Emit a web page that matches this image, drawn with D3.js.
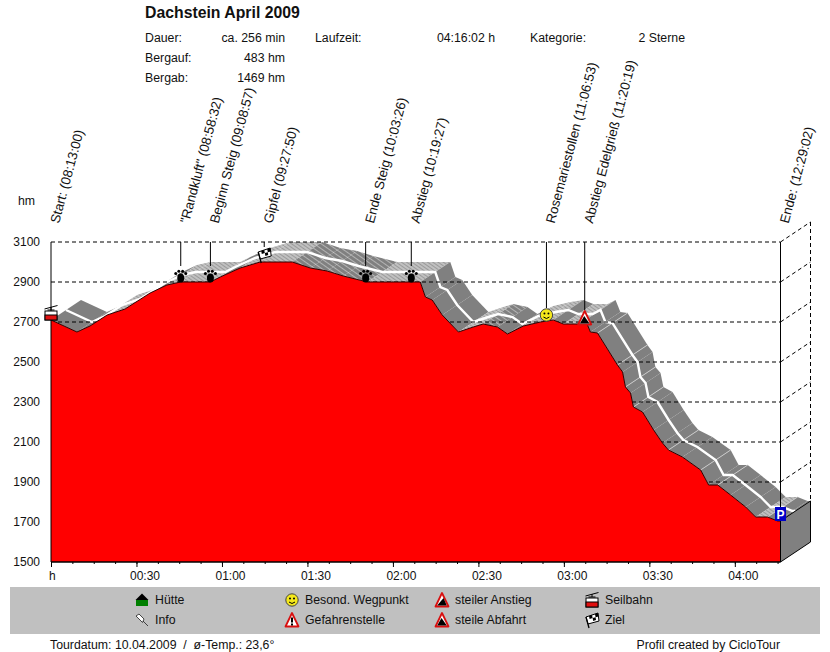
<!DOCTYPE html>
<html>
<head>
<meta charset="utf-8">
<script src="https://cdn.jsdelivr.net/npm/d3@7"></script>
<style>
body { margin: 0; background: white; }
text { font-family: "Liberation Sans", Arial, sans-serif; font-size: 12.3px; fill: #111; }
</style>
</head>
<body>
<script>
// profile: minutes since start, height in hm
const times = [0, 9.1, 13.7, 19.7, 26, 34.8, 40.7, 45.5, 55.9, 59.4, 66.4, 73.4, 84.7, 91, 96.9, 102.6, 111, 129.6, 131.4, 133.8, 137.3, 143, 148.2, 151.7, 156.7, 160.2, 165.8, 171.8, 176.3, 179.8, 184.8, 187.6, 189.3, 191.8, 198.8, 200.6, 201.6, 203.4, 204.4, 207.6, 211.5, 214.6, 216.7, 221.6, 228, 230.8, 234, 238.5, 243.8, 247.3, 251.5, 255, 256.03];
const heights = [2710, 2650, 2680, 2735, 2765, 2845, 2885, 2900, 2900, 2925, 2970, 3000, 3000, 2970, 2955, 2930, 2900, 2900, 2825, 2810, 2735, 2650, 2675, 2690, 2675, 2640, 2680, 2700, 2710, 2690, 2690, 2710, 2650, 2645, 2485, 2450, 2375, 2345, 2275, 2250, 2160, 2095, 2060, 2025, 1960, 1885, 1885, 1835, 1775, 1725, 1725, 1705, 1705];
// light cross lines on the road band, at these profile points
const roadMarks = [191.8, 198.8, 201.6, 204.4, 216.7, 228, 234, 251.5];

const yTicks = [1500, 1700, 1900, 2100, 2300, 2500, 2700, 2900, 3100];
const majorTicks = [30, 60, 90, 120, 150, 180, 210, 240];
const tickLabels = ["00:30", "01:00", "01:30", "02:00", "02:30", "03:00", "03:30", "04:00"];

const wayNames = ["Start:", "\"Randkluft\"", "Beginn Steig", "Gipfel", "Ende Steig", "Abstieg", "Rosemariestollen", "Abstieg Edelgrieß", "Ende:"];
const wayClock = ["08:13:00", "08:58:32", "09:08:57", "09:27:50", "10:03:26", "10:19:27", "11:06:53", "11:20:19", "12:29:02"];
const wayHeights = [2710, 2900, 2900, 3000, 2900, 2900, 2700, 2690, 1705];
const wayIcons = ["cable", "paw", "paw", "flag", "paw", "paw", "smiley", "down", "park"];
const wayStemTo = [2780, 2980, 2980, 3075, 2980, 2980, 2770, 2760, 1790];

const legendLabels = ["Hütte", "Info", "Besond. Wegpunkt", "Gefahrenstelle", "steiler Anstieg", "steile Abfahrt", "Seilbahn", "Ziel"];
const legendIcons = ["house", "pin", "smiley", "warn", "up", "down", "cable", "flag"];
const legendCols = [142, 292, 442, 592];

const infoLabels = ["Dauer:", "Bergauf:", "Bergab:"];
const infoValues = ["ca. 256 min", "483 hm", "1469 hm"];

const width = 830, height = 652;
const depthX = 30, depthY = -20;

const x = d3.scaleLinear().domain([0, 256.03]).range([51, 780.5]);
const y = d3.scaleLinear().domain([1500, 3100]).range([562, 242]);

const svg = d3.select("body").append("svg")
    .attr("width", width)
    .attr("height", height)
    .style("display", "block");

const defs = svg.append("defs");
const addStripes = (id, base, line, size) => {
    const p = defs.append("pattern")
        .attr("id", id)
        .attr("patternUnits", "userSpaceOnUse")
        .attr("width", size)
        .attr("height", size)
        .attr("patternTransform", "rotate(-55)");
    p.append("rect").attr("width", size).attr("height", size).attr("fill", base);
    p.append("rect").attr("width", 1).attr("height", size).attr("fill", line);
};
addStripes("lightRoad", "#c0c0c0", "#9a9a9a", 3);
addStripes("midRoad", "#808080", "#b4b4b4", 4);

const points = times.map((t, i) => ({ t: t, h: heights[i], px: x(t), py: y(heights[i]) }));
const segments = d3.pairs(points);

const slopeOf = ([a, b]) => (b.py - a.py) / (b.px - a.px);
const slopeFill = seg => {
    const s = slopeOf(seg);
    if (s > 0.35 || s < -0.45) return "#808080";
    if (s > 0.1) return "url(#midRoad)";
    return "url(#lightRoad)";
};
// very short flat pieces just carry on the shade before them
let lastFill = null;
const roadFills = segments.map(seg => {
    if (lastFill === null || seg[1].px - seg[0].px >= 10 || slopeOf(seg) > 0.35) lastFill = slopeFill(seg);
    return lastFill;
});

// road band going back in depth
svg.append("g").selectAll("path")
    .data(segments)
    .join("path")
    .attr("d", ([a, b]) => `M${a.px},${a.py}L${b.px},${b.py}L${b.px + depthX},${b.py + depthY}L${a.px + depthX},${a.py + depthY}Z`)
    .attr("fill", (d, i) => roadFills[i])
    .attr("stroke", "none");

svg.append("g").selectAll("line")
    .data(points.filter(p => roadMarks.includes(p.t)))
    .join("line")
    .attr("x1", p => p.px)
    .attr("y1", p => p.py)
    .attr("x2", p => p.px + depthX)
    .attr("y2", p => p.py + depthY)
    .attr("stroke", "#c8c8c8")
    .attr("stroke-width", 1);

const midLine = d3.line().x(p => p.px + depthX / 2).y(p => p.py + depthY / 2);
svg.append("path")
    .attr("d", midLine(points))
    .attr("fill", "none")
    .attr("stroke", "white")
    .attr("stroke-width", 2.4);

// grid, also on the back walls
const grid = svg.append("g");
yTicks.slice(1).forEach(v => {
    grid.append("line")
        .attr("x1", x.range()[0]).attr("x2", x.range()[1])
        .attr("y1", y(v)).attr("y2", y(v))
        .attr("stroke", "black").attr("stroke-dasharray", "4,3");
    grid.append("line")
        .attr("x1", x.range()[1]).attr("x2", x.range()[1] + depthX)
        .attr("y1", y(v)).attr("y2", y(v) + depthY)
        .attr("stroke", "black").attr("stroke-dasharray", "4,3");
});
grid.append("line")
    .attr("x1", x.range()[1] + depthX).attr("x2", x.range()[1] + depthX)
    .attr("y1", y(3100) + depthY).attr("y2", y(heights[heights.length - 1]) + depthY)
    .attr("stroke", "black").attr("stroke-dasharray", "4,3");

// red profile
const area = d3.area().x(p => p.px).y0(y(1500)).y1(p => p.py);
const topLine = d3.line().x(p => p.px).y(p => p.py);
svg.append("path").attr("d", area(points)).attr("fill", "#ff0000");
svg.append("path").attr("d", topLine(points)).attr("fill", "none").attr("stroke", "#300000").attr("stroke-width", 1);

// right wall
const last = points[points.length - 1];
svg.append("path")
    .attr("d", `M${last.px},${last.py}L${last.px + depthX},${last.py + depthY}L${last.px + depthX},${y(1500) + depthY}L${last.px},${y(1500)}Z`)
    .attr("fill", "#808080")
    .attr("stroke", "black");

// axes
svg.append("line")
    .attr("x1", x.range()[0]).attr("x2", x.range()[0])
    .attr("y1", y(3100)).attr("y2", y(1500))
    .attr("stroke", "black");
svg.append("line")
    .attr("x1", x.range()[1]).attr("x2", x.range()[1])
    .attr("y1", y(3100)).attr("y2", y(heights[heights.length - 1]))
    .attr("stroke", "black");
svg.append("line")
    .attr("x1", x.range()[0]).attr("x2", x.range()[1])
    .attr("y1", y(1500)).attr("y2", y(1500))
    .attr("stroke", "black").attr("stroke-width", 1.5);

svg.append("g")
    .attr("transform", `translate(0,${y(1500)})`)
    .call(d3.axisBottom(x).tickValues(d3.range(0, 256, 7.5)).tickSize(2).tickFormat(""))
    .call(g => g.select(".domain").remove())
    .call(g => g.selectAll("line").attr("stroke", "black"));

const xAxis = svg.append("g")
    .attr("transform", `translate(0,${y(1500)})`)
    .call(d3.axisBottom(x).tickValues([0].concat(majorTicks)).tickSize(5)
        .tickFormat((d, i) => i === 0 ? "h" : tickLabels[i - 1]));
xAxis.select(".domain").remove();
xAxis.selectAll("line").attr("stroke", "black");
xAxis.selectAll("text")
    .attr("text-anchor", "start")
    .attr("x", (d, i) => i === 0 ? -2.5 : -7)
    .attr("y", 9)
    .style("font-family", "\"Liberation Sans\", Arial, sans-serif")
    .style("font-size", "12px");

const yAxis = svg.append("g")
    .attr("transform", `translate(${x.range()[0]},0)`)
    .call(d3.axisLeft(y).tickValues(yTicks).tickSize(0).tickPadding(11).tickFormat(d3.format("d")));
yAxis.select(".domain").remove();
yAxis.selectAll("text")
    .style("font-family", "\"Liberation Sans\", Arial, sans-serif")
    .style("font-size", "12px");

svg.append("text").attr("x", 18).attr("y", 205).text("hm");

// icons, all drawn round 0,0
const icons = {
    paw: g => {
        g.append("ellipse").attr("cy", 2).attr("rx", 3.5).attr("ry", 4.6).attr("fill", "black");
        [[-5, -2.5], [-1.9, -4.8], [1.9, -4.8], [5, -2.5]].forEach(c => {
            g.append("circle").attr("cx", c[0]).attr("cy", c[1]).attr("r", 1.5).attr("fill", "black");
        });
    },
    smiley: g => {
        g.append("circle").attr("r", 6.2).attr("fill", "#f4e81c").attr("stroke", "#444").attr("stroke-width", 1);
        g.append("circle").attr("cx", -2).attr("cy", -1.5).attr("r", 1).attr("fill", "black");
        g.append("circle").attr("cx", 2).attr("cy", -1.5).attr("r", 1).attr("fill", "black");
        g.append("path").attr("d", "M-3,2Q0,5 3,2").attr("fill", "none").attr("stroke", "black");
    },
    triangle: g => {
        g.append("path").attr("d", "M0,-7L6.5,6.5L-6.5,6.5Z")
            .attr("fill", "white").attr("stroke", "#d81010").attr("stroke-width", 1.8).attr("stroke-linejoin", "round");
    },
    down: g => {
        icons.triangle(g);
        g.append("path").attr("d", "M-0.5,-2L4.8,5.5L-4.8,5.5Z").attr("fill", "black");
    },
    up: g => {
        icons.triangle(g);
        g.append("path").attr("d", "M1.5,-2L4.8,5.5L-4.8,5.5Z").attr("fill", "black");
    },
    warn: g => {
        icons.triangle(g);
        g.append("rect").attr("x", -1).attr("y", -2.5).attr("width", 2).attr("height", 5).attr("fill", "black");
        g.append("rect").attr("x", -1).attr("y", 3.5).attr("width", 2).attr("height", 2).attr("fill", "black");
    },
    house: g => {
        g.append("rect").attr("x", -6).attr("y", 0).attr("width", 12).attr("height", 6).attr("fill", "#007f00");
        g.append("path").attr("d", "M-6.5,0L0,-6.5L6.5,0Z").attr("fill", "black");
    },
    pin: g => {
        g.append("path").attr("d", "M-6,-4L-3,-6L2,-1L0.5,2.5L-3,-1Z M1,1L6,6")
            .attr("fill", "white").attr("stroke", "#333").attr("stroke-width", 0.9);
    },
    cable: g => {
        g.append("path").attr("d", "M-6.5,-4L6.5,-7.5M0,-6L0,-3M-3.5,-3L3.5,-3")
            .attr("fill", "none").attr("stroke", "black");
        g.append("rect").attr("x", -6).attr("y", -2).attr("width", 12).attr("height", 9).attr("fill", "white").attr("stroke", "black");
        g.append("rect").attr("x", -6).attr("y", 2).attr("width", 12).attr("height", 5).attr("fill", "#e01010").attr("stroke", "black");
    },
    flag: g => {
        g.append("path").attr("d", "M-6,-3L6,-7L7,1L-4,4Z").attr("fill", "white").attr("stroke", "black");
        g.append("path").attr("d", "M-3,-4L0,-5L0.6,-2L-2.4,-1Z M3,-6L6,-7L6.5,-3.5L3.6,-2.8Z M0.6,-2L3.6,-2.8L4,0L1.2,1Z").attr("fill", "black");
        g.append("path").attr("d", "M-6,-3L-3,8").attr("fill", "none").attr("stroke", "black").attr("stroke-width", 1.3);
    },
    park: g => {
        g.append("rect").attr("x", -5.5).attr("y", -7).attr("width", 11).attr("height", 14).attr("fill", "#0000c8");
        g.append("text").attr("text-anchor", "middle").attr("y", 4.5)
            .style("font-size", "12px").style("font-weight", "bold").style("fill", "white").text("P");
    }
};
// how far above the profile each icon sits
const iconLift = { paw: 6, flag: 7, smiley: 7, down: 6, cable: 7, park: 7 };

const clockToMin = s => {
    const p = s.split(":").map(Number);
    return (p[0] - 8) * 60 + p[1] + p[2] / 60 - 13;
};

wayNames.forEach((name, i) => {
    const wx = x(clockToMin(wayClock[i]));
    const wy = y(wayHeights[i]);
    if (i > 0 && i < wayNames.length - 1) {
        svg.append("line")
            .attr("x1", wx).attr("x2", wx)
            .attr("y1", y(3100)).attr("y2", y(wayStemTo[i]))
            .attr("stroke", "black");
    }
    const g = svg.append("g")
        .attr("transform", `translate(${wx},${wy - iconLift[wayIcons[i]]})`);
    icons[wayIcons[i]](g);
    svg.append("text")
        .attr("transform", `translate(${wx + 8},${y(3100) - 18}) rotate(-75)`)
        .style("font-size", "13.3px")
        .text(`${name} (${wayClock[i]})`);
});

// header
svg.append("text").attr("x", 145).attr("y", 18)
    .style("font-size", "15.8px").style("font-weight", "bold").text("Dachstein April 2009");
infoLabels.forEach((label, i) => {
    svg.append("text").attr("x", 145).attr("y", 42 + i * 20).text(label);
    svg.append("text").attr("x", 285).attr("y", 42 + i * 20).attr("text-anchor", "end").text(infoValues[i]);
});
svg.append("text").attr("x", 315).attr("y", 42).text("Laufzeit:");
svg.append("text").attr("x", 495).attr("y", 42).attr("text-anchor", "end").text("04:16:02 h");
svg.append("text").attr("x", 530).attr("y", 42).text("Kategorie:");
svg.append("text").attr("x", 685).attr("y", 42).attr("text-anchor", "end").text("2 Sterne");

// legend
svg.append("rect").attr("x", 10).attr("y", 587).attr("width", 810).attr("height", 47).attr("fill", "#c0c0c0");
legendLabels.forEach((label, i) => {
    const col = legendCols[Math.floor(i / 2)];
    const row = 600 + (i % 2) * 20;
    icons[legendIcons[i]](svg.append("g").attr("transform", `translate(${col},${row})`));
    svg.append("text").attr("x", col + 13).attr("y", row + 4).text(label);
});

// footer
svg.append("text").attr("x", 50).attr("y", 649).text("Tourdatum: 10.04.2009\u00a0 /\u00a0 ø-Temp.: 23,6°");
svg.append("text").attr("x", 780).attr("y", 649).attr("text-anchor", "end").text("Profil created by CicloTour");
</script>
</body>
</html>
